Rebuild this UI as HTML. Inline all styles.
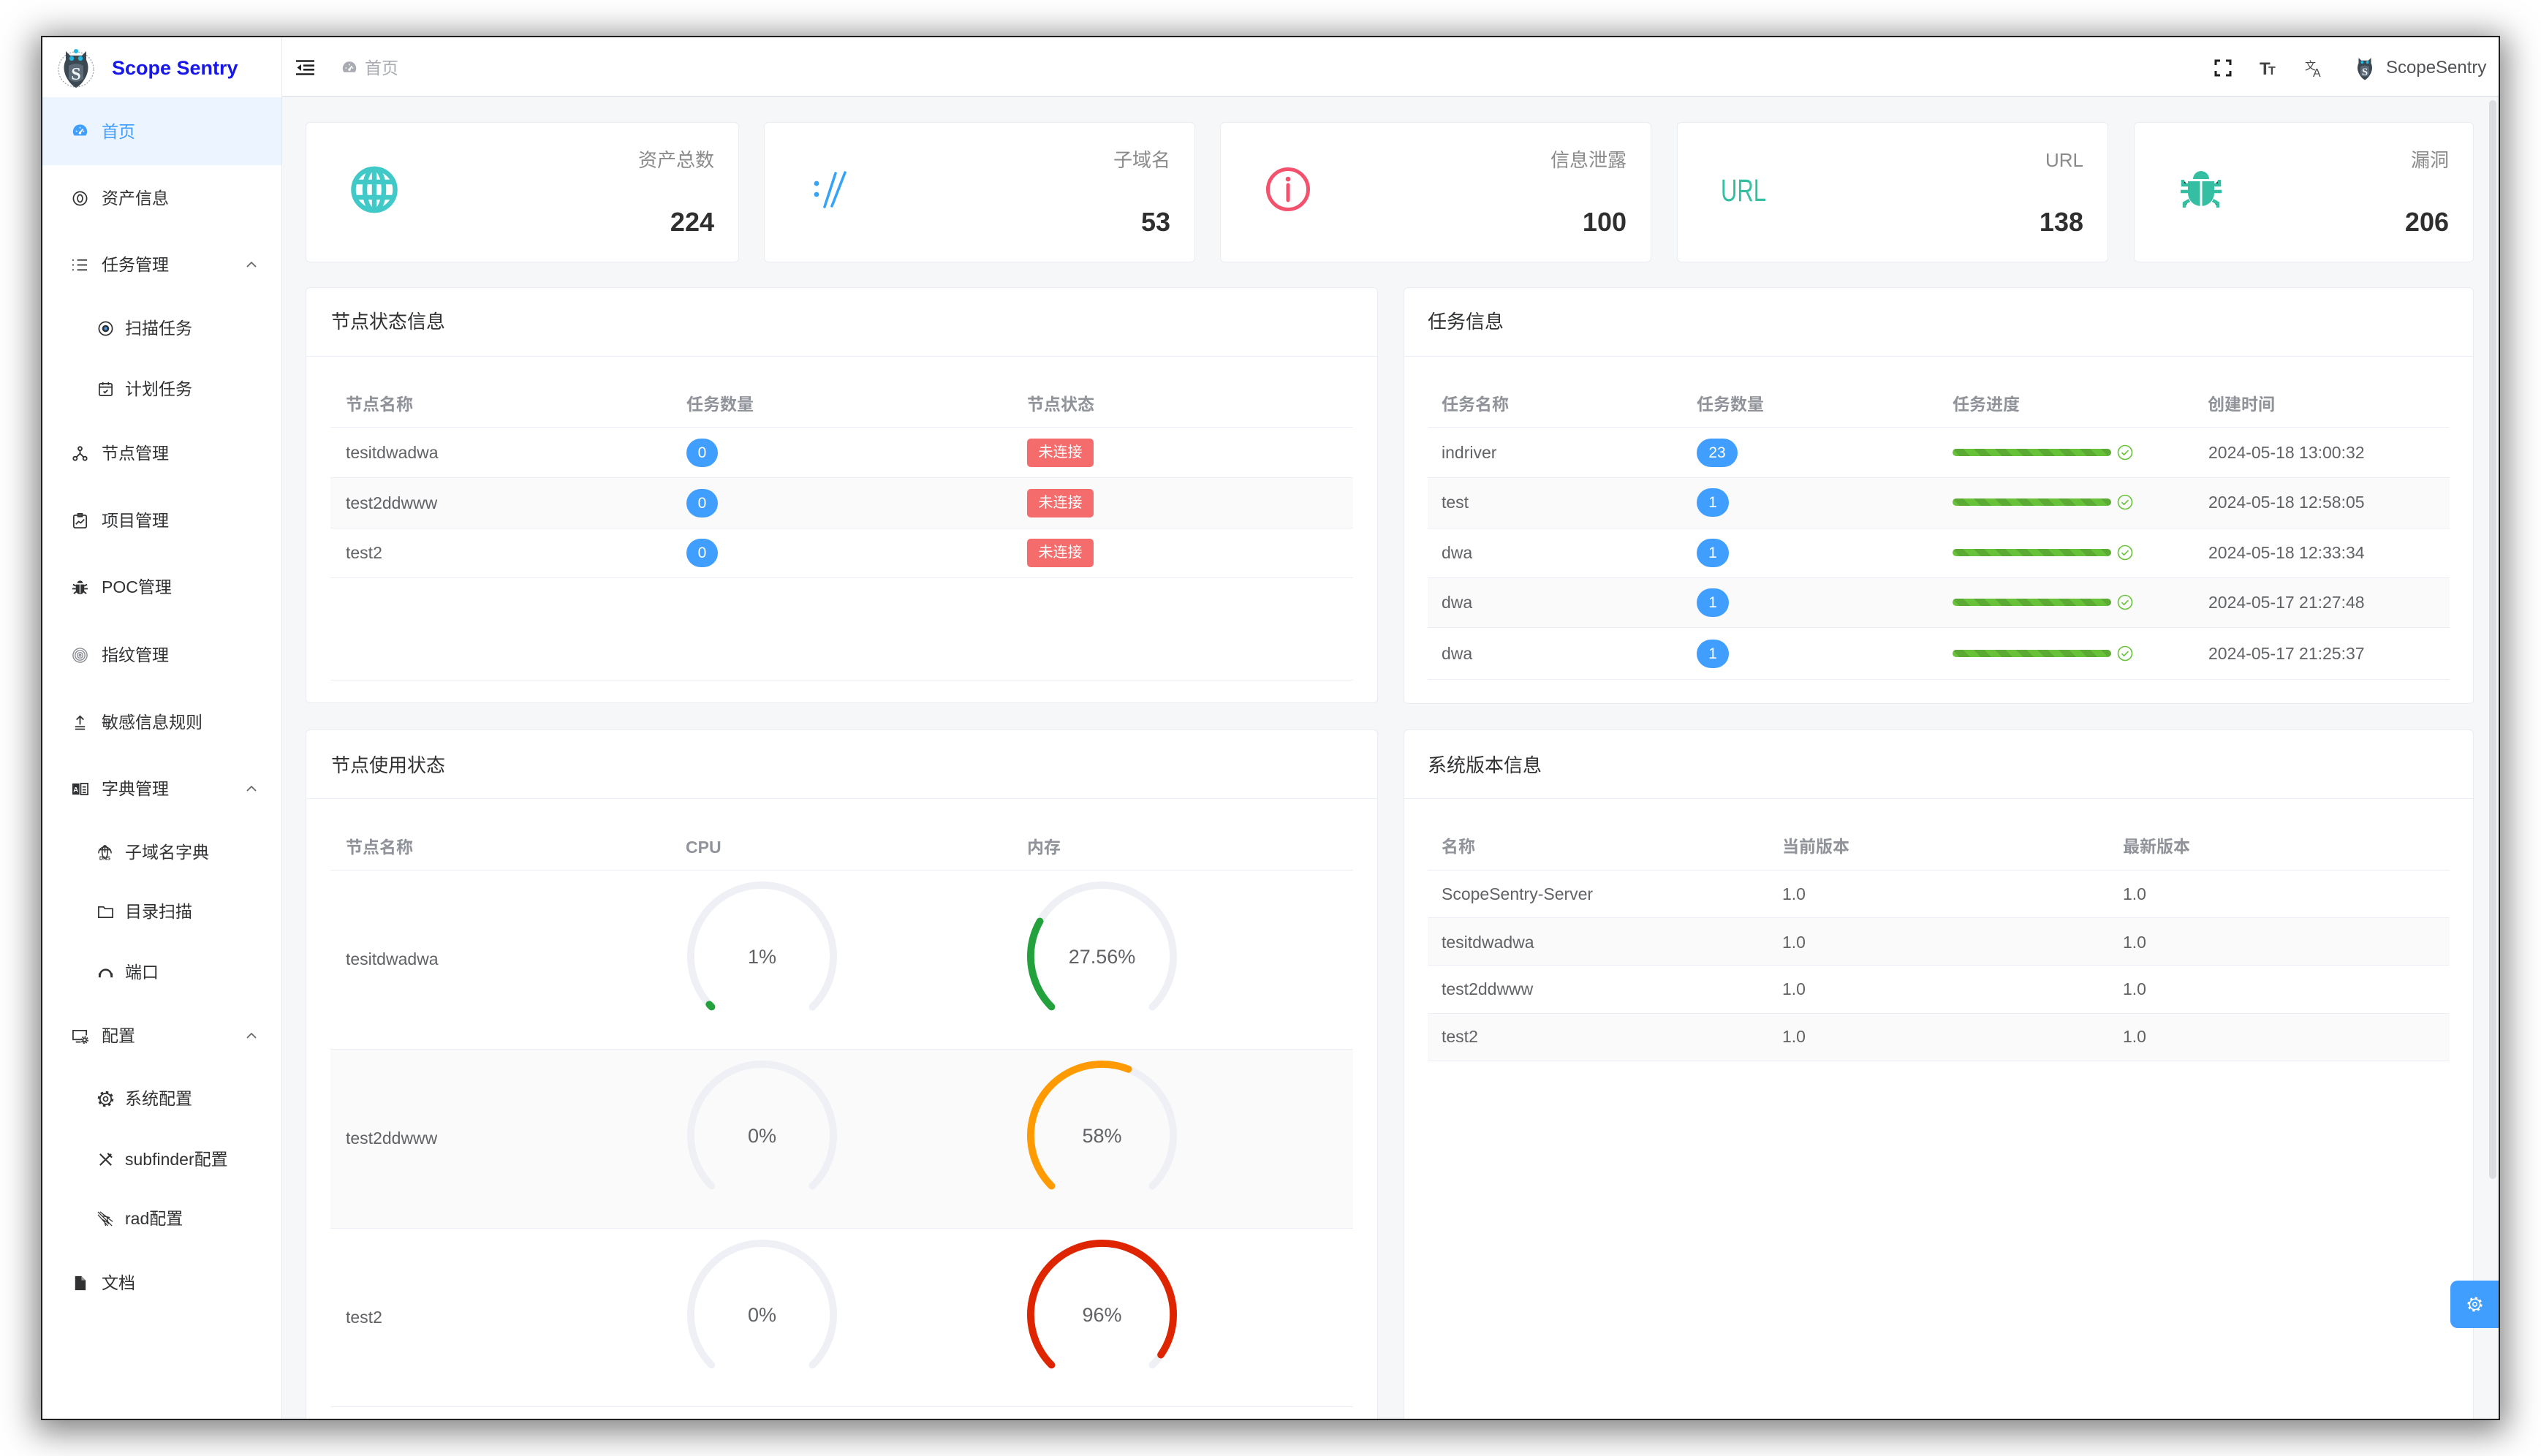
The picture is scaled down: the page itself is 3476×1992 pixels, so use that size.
<!DOCTYPE html>
<html><head><meta charset="utf-8">
<style>
*{margin:0;padding:0;box-sizing:border-box}
html,body{width:3476px;height:1992px;background:#fff;overflow:hidden}
body{position:relative;font-family:"Liberation Sans","Noto Sans CJK SC",sans-serif;color:#303133}
.a{position:absolute}
.t{position:absolute;white-space:nowrap;line-height:30px;height:30px;font-size:23px}
.m{color:#303133}
.g{color:#606266}
.th{font-weight:bold;color:#909399}
.card{position:absolute;background:#fff;border:1px solid #e9ecf1;border-radius:6px}
.lbl{position:absolute;text-align:right;font-size:26px;line-height:32px;height:32px;color:#8a8a8a;white-space:nowrap}
.num{position:absolute;text-align:right;font-size:36px;line-height:40px;height:40px;color:#2f2f2f;font-weight:bold}
.title{position:absolute;font-size:26px;line-height:32px;height:32px;color:#303133;white-space:nowrap}
.hl{position:absolute;height:1px;background:#ebeef5}
.row{position:absolute;border-bottom:1px solid #ebeef5}
.st{background:#fafafa}
.badge{position:absolute;height:39px;border-radius:20px;background:#409eff;color:#fff;font-size:21px;line-height:39px;text-align:center}
.tag{position:absolute;width:91px;height:39px;border-radius:5px;background:#f56c6c;color:#fff;font-size:20px;line-height:39px;text-align:center}
.bar{position:absolute;width:217px;height:10px;border-radius:5px;background-color:#67c23a;background-image:linear-gradient(45deg,rgba(0,0,0,.12) 25%,transparent 25%,transparent 50%,rgba(0,0,0,.12) 50%,rgba(0,0,0,.12) 75%,transparent 75%,transparent);background-size:29px 29px}
.ok{position:absolute;width:22px;height:22px}
.gauge{position:absolute;width:205px;height:205px}
.gauge svg{position:absolute;left:0;top:0;width:205px;height:205px}
.gauge span{position:absolute;left:0;top:86px;width:205px;text-align:center;font-size:27px;line-height:34px;color:#606266}
.ic{position:absolute;width:23px;height:23px}
.arr{position:absolute;width:14px;height:9px}
</style></head><body>

<div class="a" style="left:56px;top:49px;width:3364px;height:1894px;border:2px solid #1f1f1f;background:#f5f7f9;box-shadow:0 8px 42px 8px rgba(0,0,0,.5)"></div>

<div class="a" style="left:0;top:0;width:3476px;height:1992px;clip-path:inset(51px 58px 51px 58px)">

<!-- sidebar -->
<div class="a" style="left:58px;top:51px;width:328px;height:1890px;background:#fff;border-right:1px solid #e6e8eb"></div>
<!-- header -->
<div class="a" style="left:386px;top:51px;width:3032px;height:82px;background:#fff;border-bottom:2px solid #e6e9ee"></div>

<!-- logo -->
<svg class="a" style="left:76px;top:62px" width="56" height="60" viewBox="0 0 56 60">
 <circle cx="28" cy="33" r="24" fill="none" stroke="#9aa3ab" stroke-width="1.2" stroke-dasharray="2 2"/>
 <path d="M14 8 L20 14 L36 14 L42 8 L42 20 Q47 30 42 42 Q36 54 28 58 Q20 54 14 42 Q9 30 14 20 Z" fill="#3b4751"/>
 <circle cx="22" cy="18" r="3.2" fill="#22b8e0"/><circle cx="34" cy="18" r="3.2" fill="#22b8e0"/>
 <circle cx="28" cy="8" r="3" fill="#22b8e0"/>
 <path d="M18 28 Q28 22 38 28 L38 46 Q28 54 18 46 Z" fill="#5b6a76"/>
 <text x="28" y="47" text-anchor="middle" font-family="Liberation Serif,serif" font-weight="bold" font-size="24" fill="#f2f4f6">S</text>
</svg>
<div class="a" style="left:153px;top:75px;font-size:27px;line-height:36px;font-weight:bold;color:#1717ec;white-space:nowrap">Scope Sentry</div>

<!-- header left -->
<svg class="a" style="left:405px;top:82px" width="25" height="21" viewBox="0 0 25 21">
 <g stroke="#222" stroke-width="2.6" fill="none"><path d="M0 1.5h25M10 7.7h15M10 13.3h15M0 19.5h25"/></g>
 <path d="M7 6 L1.5 10.5 L7 15 Z" fill="#222"/>
</svg>
<svg class="a" style="left:467px;top:82px" width="22" height="22" viewBox="0 0 24 24">
 <path d="M12 2.5a10 10 0 0 0-8.2 15.8h16.4A10 10 0 0 0 12 2.5z" fill="#a8abb2"/>
 <path d="M12 14l4-5" stroke="#fff" stroke-width="2"/><circle cx="12" cy="14.5" r="1.8" fill="#fff"/>
 <path d="M6 12h2M16 12h2M12 6v2" stroke="#fff" stroke-width="1.5"/>
</svg>
<div class="t" style="left:499px;top:78px;color:#a8abb2">首页</div>

<!-- header right -->
<svg class="a" style="left:3029px;top:81px" width="24" height="24" viewBox="0 0 24 24">
 <g stroke="#1f1f1f" stroke-width="3" fill="none"><path d="M2 8V2h6M16 2h6v6M22 16v6h-6M8 22H2v-6"/></g>
</svg>
<svg class="a" style="left:3091px;top:80px" width="26" height="26" viewBox="0 0 26 26">
 <text x="0" y="22" font-family="Liberation Sans,sans-serif" font-weight="bold" font-size="24" fill="#444">T</text>
 <text x="12" y="22" font-family="Liberation Sans,sans-serif" font-weight="bold" font-size="16" fill="#444">T</text>
</svg>
<svg class="a" style="left:3153px;top:80px" width="27" height="27" viewBox="0 0 27 27">
 <text x="0" y="15" font-family="Noto Sans CJK SC,sans-serif" font-size="15" fill="#444">文</text>
 <text x="11" y="25" font-family="Liberation Sans,sans-serif" font-size="16" fill="#444">A</text>
</svg>
<svg class="a" style="left:3218px;top:74px" width="34" height="37" viewBox="0 0 56 60">
 <path d="M14 8 L20 14 L36 14 L42 8 L42 20 Q47 30 42 42 Q36 54 28 58 Q20 54 14 42 Q9 30 14 20 Z" fill="#3b4751"/>
 <circle cx="22" cy="18" r="3.2" fill="#22b8e0"/><circle cx="34" cy="18" r="3.2" fill="#22b8e0"/>
 <path d="M18 28 Q28 22 38 28 L38 46 Q28 54 18 46 Z" fill="#5b6a76"/>
 <text x="28" y="47" text-anchor="middle" font-family="Liberation Serif,serif" font-weight="bold" font-size="24" fill="#f2f4f6">S</text>
</svg>
<div class="a" style="left:3264px;top:78px;font-size:24px;line-height:30px;color:#505256;white-space:nowrap">ScopeSentry</div>

<!-- menu -->
<div class="a" style="left:58px;top:133px;width:327px;height:93px;background:#ecf5ff"></div>

<svg class="ic" style="left:98px;top:168px" viewBox="0 0 24 24"><path d="M12 2.5a10 10 0 0 0-8.2 15.8h16.4A10 10 0 0 0 12 2.5z" fill="#409eff"/><path d="M12 14l4-5" stroke="#fff" stroke-width="2"/><circle cx="12" cy="14.5" r="1.8" fill="#fff"/><path d="M6 12h2M16 12h2M12 6v2" stroke="#fff" stroke-width="1.5"/></svg>
<div class="t" style="left:139px;top:165px;color:#409eff">首页</div>

<svg class="ic" style="left:98px;top:260px" viewBox="0 0 24 24"><g fill="none" stroke="#303133" stroke-width="1.8"><circle cx="12" cy="12" r="9.5"/><ellipse cx="12" cy="12" rx="3.6" ry="5.2"/></g></svg>
<div class="t m" style="left:139px;top:256px">资产信息</div>

<svg class="ic" style="left:98px;top:351px" viewBox="0 0 24 24"><g stroke="#303133" stroke-width="1.8"><path d="M8 5h14M8 12h14M8 19h14M2 4v2M2 11v2M2 18v2"/></g></svg>
<div class="t m" style="left:139px;top:347px">任务管理</div>
<svg class="arr" style="left:337px;top:357px" viewBox="0 0 14 9"><path d="M1 8l6-6 6 6" fill="none" stroke="#606266" stroke-width="1.6"/></svg>

<svg class="ic" style="left:133px;top:438px" viewBox="0 0 24 24"><circle cx="12" cy="12" r="9.5" fill="none" stroke="#303133" stroke-width="1.8"/><circle cx="12" cy="12" r="5" fill="#303133"/><circle cx="12" cy="12" r="2.2" fill="#409eff"/></svg>
<div class="t m" style="left:171px;top:434px">扫描任务</div>

<svg class="ic" style="left:133px;top:521px" viewBox="0 0 24 24"><g fill="none" stroke="#303133" stroke-width="1.8"><rect x="3" y="4" width="18" height="17" rx="2"/><path d="M3 9h18M8 2v4M16 2v4M9 15l2 2 4-4"/></g></svg>
<div class="t m" style="left:171px;top:517px">计划任务</div>

<svg class="ic" style="left:98px;top:609px" viewBox="0 0 24 24"><g fill="none" stroke="#303133" stroke-width="1.9"><circle cx="12" cy="5" r="2.6"/><circle cx="5" cy="19" r="2.6"/><circle cx="19" cy="19" r="2.6"/><path d="M12 7.6V12L7 17M12 12l5 5"/></g></svg>
<div class="t m" style="left:139px;top:605px">节点管理</div>

<svg class="ic" style="left:98px;top:701px" viewBox="0 0 24 24"><g fill="none" stroke="#303133" stroke-width="1.8"><rect x="3" y="4" width="18" height="18" rx="2"/><path d="M9 2h6v4H9zM6 17l4-4 3 2 5-5"/></g></svg>
<div class="t m" style="left:139px;top:697px">项目管理</div>

<svg class="ic" style="left:98px;top:792px" viewBox="0 0 24 24"><path d="M8 6a4 3.5 0 0 1 8 0z" fill="#303133"/><path d="M6 8h12v8a6 6 0 0 1-12 0z" fill="#303133"/><path d="M12 8v13" stroke="#fff" stroke-width="1.4"/><g stroke="#303133" stroke-width="2"><path d="M6 10L2 8M18 10l4-2M6 14H1M18 14h5M7 18l-4 3M17 18l4 3"/></g></svg>
<div class="t m" style="left:139px;top:788px">POC管理</div>

<svg class="ic" style="left:98px;top:885px" viewBox="0 0 24 24"><g fill="none" stroke="#8a8d94" stroke-width="1.5"><circle cx="12" cy="12" r="10"/><circle cx="12" cy="12" r="7"/><circle cx="12" cy="12" r="4"/><circle cx="12" cy="12" r="1.3"/></g></svg>
<div class="t m" style="left:139px;top:881px">指纹管理</div>

<svg class="ic" style="left:98px;top:977px" viewBox="0 0 24 24"><g fill="none" stroke="#303133" stroke-width="1.9"><path d="M12 15V3M7 8l5-5 5 5M5 18h14M5 21.5h14"/></g></svg>
<div class="t m" style="left:139px;top:973px">敏感信息规则</div>

<svg class="ic" style="left:98px;top:1068px" viewBox="0 0 24 24"><path d="M1 4h10v16H1z" fill="#303133"/><text x="6" y="16" text-anchor="middle" font-family="Liberation Sans,sans-serif" font-weight="bold" font-size="10" fill="#fff">A</text><g fill="none" stroke="#303133" stroke-width="1.8"><path d="M13 4h10v16H13zM15.5 9h5M15.5 13h5M15.5 17h5"/></g></svg>
<div class="t m" style="left:139px;top:1064px">字典管理</div>
<svg class="arr" style="left:337px;top:1074px" viewBox="0 0 14 9"><path d="M1 8l6-6 6 6" fill="none" stroke="#606266" stroke-width="1.6"/></svg>

<svg class="ic" style="left:132px;top:1154px" width="25" height="25" viewBox="0 0 24 24"><g fill="none" stroke="#303133" stroke-width="1.6"><path d="M3 14a9 9 0 1 1 18 0"/><ellipse cx="12" cy="12" rx="4" ry="9"/><path d="M3.5 9h17M12 3v10"/></g><text x="12" y="23.5" text-anchor="middle" font-family="Liberation Sans,sans-serif" font-weight="bold" font-size="7.5" fill="#303133">DNS</text></svg>
<div class="t m" style="left:171px;top:1151px">子域名字典</div>

<svg class="ic" style="left:133px;top:1236px" viewBox="0 0 24 24"><path d="M2 5h7l2 2.5h11V20H2z" fill="none" stroke="#303133" stroke-width="1.8"/></svg>
<div class="t m" style="left:171px;top:1232px">目录扫描</div>

<svg class="ic" style="left:133px;top:1319px" viewBox="0 0 24 24"><path d="M4 16a8 8 0 0 1 16 0" fill="none" stroke="#303133" stroke-width="2.6"/><rect x="2" y="13" width="3" height="6" fill="#303133"/><rect x="19" y="13" width="3" height="6" fill="#303133"/></svg>
<div class="t m" style="left:171px;top:1315px">端口</div>

<svg class="ic" style="left:98px;top:1406px" viewBox="0 0 24 24"><g fill="none" stroke="#303133" stroke-width="1.8"><path d="M14 17H2V4h19v7M6 20.5h7"/><circle cx="18.5" cy="17.5" r="2.5"/><circle cx="18.5" cy="17.5" r="4.5" stroke-dasharray="2 1.5"/></g></svg>
<div class="t m" style="left:139px;top:1402px">配置</div>
<svg class="arr" style="left:337px;top:1412px" viewBox="0 0 14 9"><path d="M1 8l6-6 6 6" fill="none" stroke="#606266" stroke-width="1.6"/></svg>

<svg class="ic" style="left:133px;top:1492px" viewBox="0 0 24 24"><g fill="none" stroke="#303133"><circle cx="12" cy="12" r="8" stroke-width="1.8"/><circle cx="12" cy="12" r="9.5" stroke-width="3.5" stroke-dasharray="3.5 3.96"/><circle cx="12" cy="12" r="3.2" stroke-width="1.8"/></g></svg>
<div class="t m" style="left:171px;top:1488px">系统配置</div>

<svg class="ic" style="left:133px;top:1575px" viewBox="0 0 24 24"><g fill="none" stroke="#303133" stroke-width="2.2"><path d="M4 4l16 16M20 4L4 20M15 3l6 6"/></g></svg>
<div class="t m" style="left:171px;top:1571px">subfinder配置</div>

<svg class="ic" style="left:133px;top:1656px" viewBox="0 0 24 24"><g fill="none" stroke="#303133" stroke-width="1.3"><path d="M1 2l20 20M4 2l18 14M1 6l14 16M8 8l10 2M6 12l10 6M10 14l2 8M14 10l2 10"/></g></svg>
<div class="t m" style="left:171px;top:1652px">rad配置</div>

<svg class="ic" style="left:98px;top:1744px" viewBox="0 0 24 24"><path d="M5 2h9l6 6v14H5z" fill="#303133"/><path d="M14 2v6h6" fill="#fff" opacity=".5"/></svg>
<div class="t m" style="left:139px;top:1740px">文档</div>

<!-- stat cards -->
<div class="card" style="left:418px;top:167px;width:593px;height:192px"></div>
<div class="card" style="left:1045px;top:167px;width:590px;height:192px"></div>
<div class="card" style="left:1669px;top:167px;width:590px;height:192px"></div>
<div class="card" style="left:2294px;top:167px;width:590px;height:192px"></div>
<div class="card" style="left:2919px;top:167px;width:465px;height:192px"></div>

<div class="lbl" style="left:418px;width:559px;top:203px">资产总数</div>
<div class="num" style="left:418px;width:559px;top:284px">224</div>
<div class="lbl" style="left:1045px;width:556px;top:203px">子域名</div>
<div class="num" style="left:1045px;width:556px;top:284px">53</div>
<div class="lbl" style="left:1669px;width:556px;top:203px">信息泄露</div>
<div class="num" style="left:1669px;width:556px;top:284px">100</div>
<div class="lbl" style="left:2294px;width:556px;top:203px">URL</div>
<div class="num" style="left:2294px;width:556px;top:284px">138</div>
<div class="lbl" style="left:2919px;width:431px;top:203px">漏洞</div>
<div class="num" style="left:2919px;width:431px;top:284px">206</div>

<svg class="a" style="left:480px;top:227px" width="64" height="65" viewBox="0 0 64 65">
 <g fill="none" stroke="#40c9c6" stroke-width="6.5"><circle cx="32" cy="32.5" r="28.5"/><ellipse cx="32" cy="32.5" rx="13" ry="28.5"/><path d="M32 4v57M5 22h54M5 43h54"/></g>
</svg>
<svg class="a" style="left:1111px;top:234px" width="50" height="53" viewBox="0 0 50 53">
 <g fill="#36a3f7"><circle cx="6" cy="17" r="3.4"/><circle cx="6" cy="32" r="3.4"/></g>
 <g stroke="#36a3f7" stroke-width="3.6" stroke-linecap="round"><path d="M17 49L32 3M27 48L45 2"/></g>
</svg>
<svg class="a" style="left:1731px;top:228px" width="62" height="62" viewBox="0 0 62 62">
 <circle cx="31" cy="31" r="27.5" fill="none" stroke="#f4516c" stroke-width="5"/>
 <circle cx="31" cy="17" r="3.3" fill="#f4516c"/>
 <path d="M31 25v21" stroke="#f4516c" stroke-width="5" stroke-linecap="round"/>
</svg>
<svg class="a" style="left:2352px;top:238px" width="68" height="42" viewBox="0 0 68 42">
 <text x="2" y="37" font-family="Liberation Sans,sans-serif" font-size="43" textLength="62" lengthAdjust="spacingAndGlyphs" fill="#34bfa3">URL</text>
</svg>
<svg class="a" style="left:2983px;top:231px" width="56" height="58" viewBox="0 0 56 58">
 <g fill="#34bfa3"><path d="M17 14a11 11 0 0 1 22 0z"/><path d="M10 17h36v16a18 18 0 0 1-36 0z"/></g>
 <path d="M28 17v41" stroke="#fff" stroke-width="3"/>
 <g stroke="#34bfa3" stroke-width="4.5"><path d="M10 22H3V15M46 22h7v-7M10 31H0M46 31h10M12 43l-7 4v6M44 43l7 4v6"/></g>
</svg>

<!-- section cards -->
<div class="card" style="left:418px;top:393px;width:1467px;height:569px"></div>
<div class="card" style="left:1920px;top:393px;width:1464px;height:570px"></div>
<div class="card" style="left:418px;top:998px;width:1467px;height:1000px"></div>
<div class="card" style="left:1920px;top:998px;width:1464px;height:1000px"></div>
<div class="hl" style="left:419px;top:487px;width:1465px"></div>
<div class="hl" style="left:1921px;top:487px;width:1462px"></div>
<div class="hl" style="left:419px;top:1092px;width:1465px"></div>
<div class="hl" style="left:1921px;top:1092px;width:1462px"></div>

<div class="title" style="left:453px;top:424px">节点状态信息</div>
<div class="title" style="left:1953px;top:424px">任务信息</div>
<div class="title" style="left:453px;top:1031px">节点使用状态</div>
<div class="title" style="left:1953px;top:1031px">系统版本信息</div>

<!-- table A: node status -->
<div class="hl" style="left:452px;top:584px;width:1399px"></div>
<div class="row" style="left:452px;top:585px;width:1399px;height:69px"></div>
<div class="row st" style="left:452px;top:654px;width:1399px;height:69px"></div>
<div class="row" style="left:452px;top:723px;width:1399px;height:68px"></div>
<div class="hl" style="left:452px;top:930px;width:1399px"></div>
<div class="t th" style="left:473px;top:538px">节点名称</div>
<div class="t th" style="left:939px;top:538px">任务数量</div>
<div class="t th" style="left:1405px;top:538px">节点状态</div>

<div class="t g" style="left:473px;top:604px">tesitdwadwa</div>
<div class="badge" style="left:939px;top:600px;width:43px">0</div>
<div class="tag" style="left:1405px;top:600px">未连接</div>
<div class="t g" style="left:473px;top:673px">test2ddwww</div>
<div class="badge" style="left:939px;top:669px;width:43px">0</div>
<div class="tag" style="left:1405px;top:669px">未连接</div>
<div class="t g" style="left:473px;top:741px">test2</div>
<div class="badge" style="left:939px;top:737px;width:43px">0</div>
<div class="tag" style="left:1405px;top:737px">未连接</div>

<!-- table B: tasks -->
<div class="hl" style="left:1953px;top:584px;width:1398px"></div>
<div class="row" style="left:1953px;top:585px;width:1398px;height:69px"></div>
<div class="row st" style="left:1953px;top:654px;width:1398px;height:69px"></div>
<div class="row" style="left:1953px;top:723px;width:1398px;height:68px"></div>
<div class="row st" style="left:1953px;top:791px;width:1398px;height:68px"></div>
<div class="row" style="left:1953px;top:859px;width:1398px;height:71px"></div>
<div class="t th" style="left:1972px;top:538px">任务名称</div>
<div class="t th" style="left:2321px;top:538px">任务数量</div>
<div class="t th" style="left:2671px;top:538px">任务进度</div>
<div class="t th" style="left:3020px;top:538px">创建时间</div>

<div class="t g" style="left:1972px;top:604px">indriver</div>
<div class="badge" style="left:2321px;top:600px;width:56px">23</div>
<div class="bar" style="left:2671px;top:614px"></div>
<div class="t g" style="left:3021px;top:604px">2024-05-18 13:00:32</div>

<div class="t g" style="left:1972px;top:672px">test</div>
<div class="badge" style="left:2321px;top:668px;width:44px">1</div>
<div class="bar" style="left:2671px;top:682px"></div>
<div class="t g" style="left:3021px;top:672px">2024-05-18 12:58:05</div>

<div class="t g" style="left:1972px;top:741px">dwa</div>
<div class="badge" style="left:2321px;top:737px;width:44px">1</div>
<div class="bar" style="left:2671px;top:751px"></div>
<div class="t g" style="left:3021px;top:741px">2024-05-18 12:33:34</div>

<div class="t g" style="left:1972px;top:809px">dwa</div>
<div class="badge" style="left:2321px;top:805px;width:44px">1</div>
<div class="bar" style="left:2671px;top:819px"></div>
<div class="t g" style="left:3021px;top:809px">2024-05-17 21:27:48</div>

<div class="t g" style="left:1972px;top:879px">dwa</div>
<div class="badge" style="left:2321px;top:875px;width:44px">1</div>
<div class="bar" style="left:2671px;top:889px"></div>
<div class="t g" style="left:3021px;top:879px">2024-05-17 21:25:37</div>

<svg class="ok" style="left:2896px;top:608px" viewBox="0 0 22 22"><circle cx="11" cy="11" r="9.5" fill="none" stroke="#67c23a" stroke-width="1.6"/><path d="M6.5 11.2l3 3 6-6" fill="none" stroke="#67c23a" stroke-width="1.6"/></svg>
<svg class="ok" style="left:2896px;top:676px" viewBox="0 0 22 22"><circle cx="11" cy="11" r="9.5" fill="none" stroke="#67c23a" stroke-width="1.6"/><path d="M6.5 11.2l3 3 6-6" fill="none" stroke="#67c23a" stroke-width="1.6"/></svg>
<svg class="ok" style="left:2896px;top:745px" viewBox="0 0 22 22"><circle cx="11" cy="11" r="9.5" fill="none" stroke="#67c23a" stroke-width="1.6"/><path d="M6.5 11.2l3 3 6-6" fill="none" stroke="#67c23a" stroke-width="1.6"/></svg>
<svg class="ok" style="left:2896px;top:813px" viewBox="0 0 22 22"><circle cx="11" cy="11" r="9.5" fill="none" stroke="#67c23a" stroke-width="1.6"/><path d="M6.5 11.2l3 3 6-6" fill="none" stroke="#67c23a" stroke-width="1.6"/></svg>
<svg class="ok" style="left:2896px;top:883px" viewBox="0 0 22 22"><circle cx="11" cy="11" r="9.5" fill="none" stroke="#67c23a" stroke-width="1.6"/><path d="M6.5 11.2l3 3 6-6" fill="none" stroke="#67c23a" stroke-width="1.6"/></svg>

<!-- table C: node usage -->
<div class="hl" style="left:452px;top:1190px;width:1399px"></div>
<div class="row" style="left:452px;top:1191px;width:1399px;height:245px"></div>
<div class="row st" style="left:452px;top:1436px;width:1399px;height:245px"></div>
<div class="row" style="left:452px;top:1681px;width:1399px;height:244px"></div>
<div class="t th" style="left:473px;top:1144px">节点名称</div>
<div class="t th" style="left:938px;top:1144px">CPU</div>
<div class="t th" style="left:1405px;top:1144px">内存</div>

<div class="t g" style="left:473px;top:1297px">tesitdwadwa</div>
<div class="t g" style="left:473px;top:1542px">test2ddwww</div>
<div class="t g" style="left:473px;top:1787px">test2</div>

<div class="gauge" style="left:940px;top:1206px"><svg viewBox="0 0 100 100"><path d="M 50 50 m 0 47.6 a 47.6 47.6 0 1 1 0 -95.2 a 47.6 47.6 0 1 1 0 95.2" fill="none" stroke="#eef0f5" stroke-width="4.8" stroke-linecap="round" stroke-dasharray="224.31 299.08" stroke-dashoffset="-37.39"/><path d="M 50 50 m 0 47.6 a 47.6 47.6 0 1 1 0 -95.2 a 47.6 47.6 0 1 1 0 95.2" fill="none" stroke="#23a13d" stroke-width="4.8" stroke-linecap="round" stroke-dasharray="2.24 299.08" stroke-dashoffset="-37.39"/></svg><span>1%</span></div>
<div class="gauge" style="left:1405px;top:1206px"><svg viewBox="0 0 100 100"><path d="M 50 50 m 0 47.6 a 47.6 47.6 0 1 1 0 -95.2 a 47.6 47.6 0 1 1 0 95.2" fill="none" stroke="#eef0f5" stroke-width="4.8" stroke-linecap="round" stroke-dasharray="224.31 299.08" stroke-dashoffset="-37.39"/><path d="M 50 50 m 0 47.6 a 47.6 47.6 0 1 1 0 -95.2 a 47.6 47.6 0 1 1 0 95.2" fill="none" stroke="#23a13d" stroke-width="4.8" stroke-linecap="round" stroke-dasharray="61.82 299.08" stroke-dashoffset="-37.39"/></svg><span>27.56%</span></div>

<div class="gauge" style="left:940px;top:1451px"><svg viewBox="0 0 100 100"><path d="M 50 50 m 0 47.6 a 47.6 47.6 0 1 1 0 -95.2 a 47.6 47.6 0 1 1 0 95.2" fill="none" stroke="#eef0f5" stroke-width="4.8" stroke-linecap="round" stroke-dasharray="224.31 299.08" stroke-dashoffset="-37.39"/></svg><span>0%</span></div>
<div class="gauge" style="left:1405px;top:1451px"><svg viewBox="0 0 100 100"><path d="M 50 50 m 0 47.6 a 47.6 47.6 0 1 1 0 -95.2 a 47.6 47.6 0 1 1 0 95.2" fill="none" stroke="#eef0f5" stroke-width="4.8" stroke-linecap="round" stroke-dasharray="224.31 299.08" stroke-dashoffset="-37.39"/><path d="M 50 50 m 0 47.6 a 47.6 47.6 0 1 1 0 -95.2 a 47.6 47.6 0 1 1 0 95.2" fill="none" stroke="#ff9a00" stroke-width="4.8" stroke-linecap="round" stroke-dasharray="130.10 299.08" stroke-dashoffset="-37.39"/></svg><span>58%</span></div>

<div class="gauge" style="left:940px;top:1696px"><svg viewBox="0 0 100 100"><path d="M 50 50 m 0 47.6 a 47.6 47.6 0 1 1 0 -95.2 a 47.6 47.6 0 1 1 0 95.2" fill="none" stroke="#eef0f5" stroke-width="4.8" stroke-linecap="round" stroke-dasharray="224.31 299.08" stroke-dashoffset="-37.39"/></svg><span>0%</span></div>
<div class="gauge" style="left:1405px;top:1696px"><svg viewBox="0 0 100 100"><path d="M 50 50 m 0 47.6 a 47.6 47.6 0 1 1 0 -95.2 a 47.6 47.6 0 1 1 0 95.2" fill="none" stroke="#eef0f5" stroke-width="4.8" stroke-linecap="round" stroke-dasharray="224.31 299.08" stroke-dashoffset="-37.39"/><path d="M 50 50 m 0 47.6 a 47.6 47.6 0 1 1 0 -95.2 a 47.6 47.6 0 1 1 0 95.2" fill="none" stroke="#de2500" stroke-width="4.8" stroke-linecap="round" stroke-dasharray="215.34 299.08" stroke-dashoffset="-37.39"/></svg><span>96%</span></div>

<!-- table D: version -->
<div class="hl" style="left:1953px;top:1190px;width:1398px"></div>
<div class="row" style="left:1953px;top:1191px;width:1398px;height:65px"></div>
<div class="row st" style="left:1953px;top:1256px;width:1398px;height:65px"></div>
<div class="row" style="left:1953px;top:1321px;width:1398px;height:66px"></div>
<div class="row st" style="left:1953px;top:1387px;width:1398px;height:65px"></div>
<div class="t th" style="left:1972px;top:1143px">名称</div>
<div class="t th" style="left:2438px;top:1143px">当前版本</div>
<div class="t th" style="left:2904px;top:1143px">最新版本</div>

<div class="t g" style="left:1972px;top:1208px">ScopeSentry-Server</div>
<div class="t g" style="left:2438px;top:1208px">1.0</div>
<div class="t g" style="left:2904px;top:1208px">1.0</div>
<div class="t g" style="left:1972px;top:1274px">tesitdwadwa</div>
<div class="t g" style="left:2438px;top:1274px">1.0</div>
<div class="t g" style="left:2904px;top:1274px">1.0</div>
<div class="t g" style="left:1972px;top:1338px">test2ddwww</div>
<div class="t g" style="left:2438px;top:1338px">1.0</div>
<div class="t g" style="left:2904px;top:1338px">1.0</div>
<div class="t g" style="left:1972px;top:1403px">test2</div>
<div class="t g" style="left:2438px;top:1403px">1.0</div>
<div class="t g" style="left:2904px;top:1403px">1.0</div>

<!-- scrollbar -->
<div class="a" style="left:3405px;top:137px;width:10px;height:1476px;border-radius:5px;background:#dcdde1"></div>

<!-- settings button -->
<div class="a" style="left:3352px;top:1752px;width:66px;height:65px;background:#409eff;border-radius:10px 0 0 10px"></div>
<svg class="a" style="left:3374px;top:1773px" width="23" height="23" viewBox="0 0 24 24"><g fill="none" stroke="#fff"><circle cx="12" cy="12" r="7.5" stroke-width="1.6"/><circle cx="12" cy="12" r="9" stroke-width="3" stroke-dasharray="3.2 3.87"/><circle cx="12" cy="12" r="2.8" stroke-width="1.6"/></g></svg>

</div>
</body></html>
